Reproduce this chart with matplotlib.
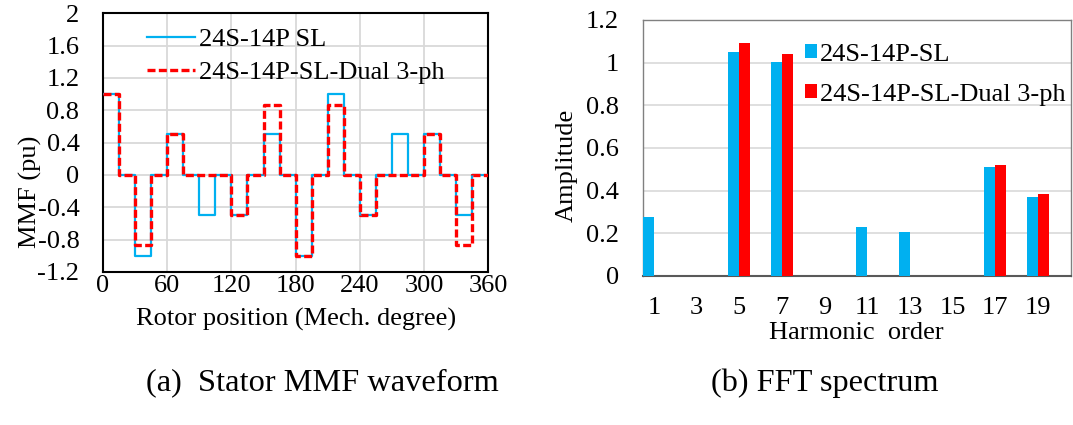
import numpy as np
import matplotlib.pyplot as plt

plt.rcParams['font.family'] = ['Liberation Serif', 'DejaVu Serif']
plt.rcParams['font.size'] = 19

BLUE = '#00B0F0'
RED = '#FF0000'
GRID = '#D9D9D9'

# stator MMF, one value per 15 degree slot step
ANGLE = np.arange(0, 361, 15)
MMF_SL = [1, 0, -1, 0, 0.5, 0, -0.5, 0, -0.5, 0, 0.5, 0,
          -1, 0, 1, 0, -0.5, 0, 0.5, 0, 0.5, 0, -0.5, 0]
MMF_DUAL = [1, 0, -0.87, 0, 0.5, 0, 0, 0, -0.5, 0, 0.87, 0,
            -1, 0, 0.87, 0, -0.5, 0, 0, 0, 0.5, 0, -0.87, 0]

# FFT spectrum
HARMONICS = ['1', '3', '5', '7', '9', '11', '13', '15', '17', '19']
AMP_SL = [0.277, 0, 1.052, 1.002, 0, 0.227, 0.207, 0, 0.509, 0.369]
AMP_DUAL = [0, 0, 1.091, 1.039, 0, 0, 0, 0, 0.520, 0.382]

fig = plt.figure(figsize=(10.73, 4.25), dpi=100)

# (a) MMF waveform
ax1 = fig.add_axes([0.096, 0.36, 0.359, 0.609])
ax1.step(ANGLE, MMF_SL + MMF_SL[-1:], where='post', color=BLUE, lw=1.6,
         label='24S-14P SL', zorder=3)
ax1.step(ANGLE, MMF_DUAL + MMF_DUAL[-1:], where='post', color=RED, lw=2.4,
         dashes=(2.4, 1.0), label='24S-14P-SL-Dual 3-ph', zorder=4)
ax1.set_xlim(0, 360)
ax1.set_ylim(-1.2, 2)
ax1.set_xticks(np.arange(0, 361, 60))
ax1.set_yticks(np.arange(-1.2, 2.01, 0.4))
ax1.set_yticklabels(['-1.2', '-0.8', '-0.4', '0', '0.4', '0.8', '1.2', '1.6', '2'])
ax1.grid(True, color=GRID, lw=1.3)
ax1.set_axisbelow(True)
ax1.tick_params(length=0, pad=2)
ax1.tick_params(axis='y', pad=17)
for sp in ax1.spines.values():
    sp.set_linewidth(1.5)
ax1.set_xlabel('Rotor position (Mech. degree)', labelpad=8)
fig.text(30 / 1073, 1 - 192 / 425, 'MMF (pu)', rotation=90, ha='center', va='center')
ax1.legend(loc='upper left', bbox_to_anchor=(0.113, 0.944), frameon=False,
           borderpad=0, borderaxespad=0, handlelength=1.85, handletextpad=0.12,
           labelspacing=0.36)

# (b) FFT spectrum
ax2 = fig.add_axes([0.599, 0.351, 0.399, 0.602])
x = np.arange(len(HARMONICS))
w = 0.262
ax2.bar(x - w / 2, AMP_SL, w, color=BLUE, label='24S-14P-SL', zorder=3)
ax2.bar(x + w / 2, AMP_DUAL, w, color=RED, label='24S-14P-SL-Dual 3-ph', zorder=3)
ax2.set_xlim(-0.262, 9.77)
ax2.set_ylim(0, 1.2)
ax2.set_xticks(x)
ax2.set_xticklabels(HARMONICS)
ax2.set_yticks(np.arange(0, 1.21, 0.2))
ax2.set_yticklabels(['0', '0.2', '0.4', '0.6', '0.8', '1', '1.2'])
ax2.yaxis.grid(True, color=GRID, lw=1.2)
ax2.set_axisbelow(True)
ax2.tick_params(length=0)
ax2.tick_params(axis='x', pad=15)
ax2.tick_params(axis='y', pad=17)
for sp in ax2.spines.values():
    sp.set_color('#808080')
    sp.set_linewidth(1.0)
ax2.spines['bottom'].set_color('#595959')
ax2.spines['bottom'].set_linewidth(1.5)
ax2.set_xlabel('Harmonic  order', labelpad=2.5)
fig.text(567 / 1073, 1 - 165 / 425, 'Amplitude', rotation=90, ha='center', va='center')
ax2.legend(loc='upper left', bbox_to_anchor=(0.379, 0.907), frameon=False,
           borderpad=0, borderaxespad=0, handlelength=0.45, handleheight=0.45,
           handletextpad=0.12, labelspacing=0.68)

# captions
fig.text(322 / 1073, 1 - 383 / 425, '(a)  Stator MMF waveform', ha='center', va='center', fontsize=23.3)
fig.text(825 / 1073, 1 - 383 / 425, '(b) FFT spectrum', ha='center', va='center', fontsize=23.3)

fig.savefig('out.png', dpi=100)
